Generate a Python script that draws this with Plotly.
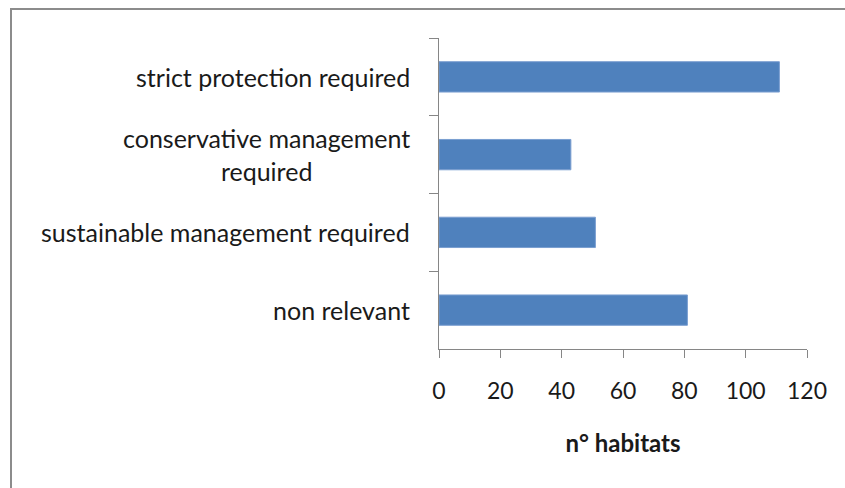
import plotly.graph_objects as go

categories = ["strict protection required",
              "conservative management<br>required",
              "sustainable management required",
              "non relevant"]
values = [111, 43, 51, 81]
x_ticks = [0, 20, 40, 60, 80, 100, 120]
x_title = "n° habitats"

FONT = "Lato"
AXIS_COLOR = "#868686"

fig = go.Figure()
fig.add_trace(go.Bar(
    y=categories, x=values, orientation="h",
    marker=dict(color="#4F81BD", line=dict(color="#7A9ED0", width=1)),
    width=0.39,
    hoverinfo="skip",
))

for c in categories:
    fig.add_annotation(
        x=0, y=c, xref="x", yref="y", text=c, showarrow=False,
        xanchor="right", yanchor="middle", align="center", xshift=-27,
        font=dict(family=FONT, size=25, color="#1a1a1a"),
    )

fig.update_layout(
    width=845, height=488,
    margin=dict(l=439, r=38, t=38, b=139),
    paper_bgcolor="white", plot_bgcolor="white",
    showlegend=False,
    xaxis=dict(
        range=[0, 120], tickvals=x_ticks, ticktext=[str(v) for v in x_ticks],
        showgrid=False, zeroline=False, showline=True, linecolor=AXIS_COLOR, linewidth=1,
        ticks="outside", ticklen=8, tickcolor=AXIS_COLOR, tickwidth=1,
        tickfont=dict(family=FONT, size=23, color="#1a1a1a"),
        ticklabelstandoff=13,
        title=dict(text="<b>" + x_title + "</b>", standoff=32,
                   font=dict(family=FONT, size=24, color="#1a1a1a")),
    ),
    yaxis=dict(
        autorange="reversed", type="category",
        showgrid=False, zeroline=False, showline=True, linecolor=AXIS_COLOR, linewidth=1,
        ticks="outside", ticklen=9, tickcolor=AXIS_COLOR, tickwidth=1,
        tickson="boundaries", showticklabels=False,
    ),
    shapes=[dict(
        type="rect", xref="paper", yref="paper",
        x0=(11 - 439) / 368.0, x1=(860 - 439) / 368.0,
        y0=(349 - 500) / 311.0, y1=(349 - 9) / 311.0,
        line=dict(color="#8c8c8c", width=2), fillcolor="rgba(0,0,0,0)", layer="below",
    )],
)

fig.write_html("out.html")
